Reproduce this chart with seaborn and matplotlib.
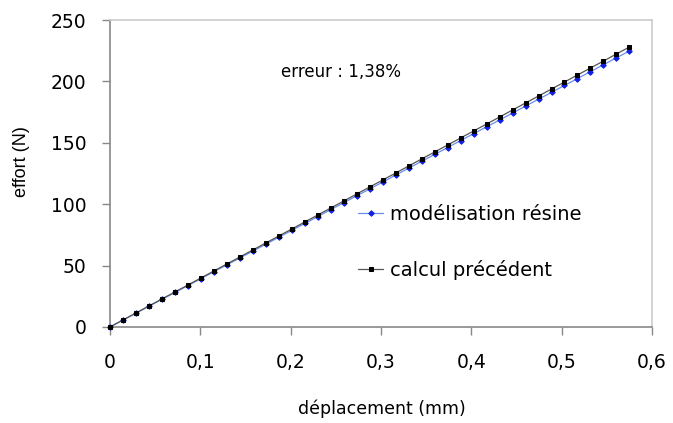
import seaborn as sns
import matplotlib.pyplot as plt
import pandas as pd

# données
deplacement = [0, 0.0144, 0.0288, 0.0431, 0.0575, 0.0719, 0.0863, 0.1006, 0.1150, 0.1294,
               0.1438, 0.1581, 0.1725, 0.1869, 0.2013, 0.2156, 0.2300, 0.2444, 0.2588, 0.2731,
               0.2875, 0.3019, 0.3163, 0.3306, 0.3450, 0.3594, 0.3738, 0.3881, 0.4025, 0.4169,
               0.4313, 0.4456, 0.4600, 0.4744, 0.4888, 0.5031, 0.5175, 0.5319, 0.5463, 0.5606,
               0.5750]
effort_resine = [0, 5.6, 11.2, 16.9, 22.5, 28.1, 33.7, 39.3, 45.0, 50.6,
                 56.2, 61.8, 67.4, 73.1, 78.7, 84.3, 89.9, 95.6, 101.2, 106.8,
                 112.4, 118.0, 123.7, 129.3, 134.9, 140.5, 146.1, 151.8, 157.4, 163.0,
                 168.6, 174.2, 179.9, 185.5, 191.1, 196.7, 202.3, 208.0, 213.6, 219.2,
                 224.8]
effort_calcul = [0, 5.7, 11.4, 17.1, 22.8, 28.5, 34.2, 39.9, 45.6, 51.3,
                 57.0, 62.7, 68.4, 74.1, 79.8, 85.5, 91.2, 96.9, 102.6, 108.3,
                 114.0, 119.7, 125.4, 131.1, 136.8, 142.5, 148.2, 153.9, 159.6, 165.3,
                 171.0, 176.7, 182.4, 188.1, 193.8, 199.5, 205.2, 210.9, 216.6, 222.3,
                 228.0]
xticks = [0, 0.1, 0.2, 0.3, 0.4, 0.5, 0.6]
xlabels = ['0', '0,1', '0,2', '0,3', '0,4', '0,5', '0,6']
yticks = [0, 50, 100, 150, 200, 250]

df = pd.DataFrame({'x': deplacement, 'resine': effort_resine, 'calcul': effort_calcul})

sns.set_style('white')
plt.rcParams['font.family'] = ['DejaVu Sans']
plt.rcParams['text.color'] = 'black'
plt.rcParams['axes.labelcolor'] = 'black'
plt.rcParams['xtick.labelcolor'] = 'black'
plt.rcParams['ytick.labelcolor'] = 'black'

fig = plt.figure(figsize=(6.73, 4.23), dpi=100)
ax = fig.add_axes([0.1634, 0.227, 0.8054, 0.7257])

sns.lineplot(data=df, x='x', y='resine', ax=ax, color='#6a8cf0', lw=0.9,
             marker='D', markersize=2.8, markerfacecolor='#1020e0', markeredgecolor='#1020e0',
             label='modélisation résine', clip_on=False, zorder=3)
sns.lineplot(data=df, x='x', y='calcul', ax=ax, color='#555555', lw=0.9,
             marker='s', markersize=3.5, markerfacecolor='black', markeredgecolor='black',
             label='calcul précédent', clip_on=False, zorder=3)

ax.set_xlim(0, 0.6)
ax.set_ylim(0, 250)
ax.set_xticks(xticks)
ax.set_xticklabels(xlabels)
ax.set_yticks(yticks)
ax.tick_params(axis='both', direction='out', length=5.5, width=1, color='#888888',
               labelsize=13.5, left=True, bottom=True)
ax.tick_params(axis='x', pad=13)
ax.tick_params(axis='y', pad=11.5)
for side in ['left', 'bottom']:
    ax.spines[side].set_color('#888888')
    ax.spines[side].set_linewidth(1.2)
for side in ['top', 'right']:
    ax.spines[side].set_color('#cccccc')
    ax.spines[side].set_linewidth(1.2)

ax.set_xlabel('déplacement (mm)', fontsize=12.5)
ax.set_ylabel('effort (N)', fontsize=13, family='Liberation Sans')
ax.xaxis.set_label_coords(0.502, -0.235)
ax.yaxis.set_label_coords(-0.148, 0.54)

ax.text(0.256, 208, 'erreur : 1,38%', fontsize=12, ha='center', va='center')

ax.legend(loc='center left', bbox_to_anchor=(0.458, 0.275), frameon=False,
          fontsize=14, labelspacing=1.85, handlelength=1.3, handletextpad=0.35,
          borderaxespad=0, borderpad=0)

fig.savefig('out.png', dpi=100)
